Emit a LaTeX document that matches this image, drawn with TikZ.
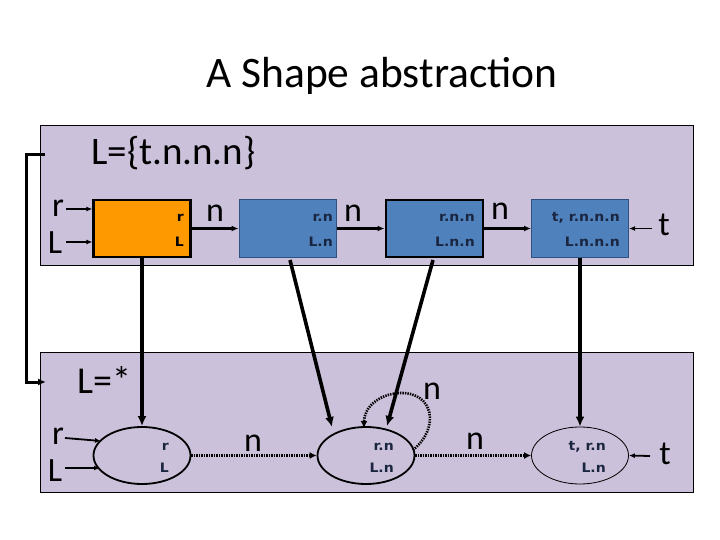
\documentclass[tikz,border=0pt]{standalone}
\usepackage{fontspec}
\setmainfont{Carlito}
\newfontfamily\labfont[FakeStretch=1.08]{DejaVu Sans Bold}
\usetikzlibrary{arrows.meta,shapes.geometric}
\definecolor{panel}{HTML}{CCC1DA}
\definecolor{orangebox}{HTML}{FF9900}
\definecolor{bluebox}{HTML}{4F81BD}
\definecolor{blueedge}{HTML}{2F4F7F}
\definecolor{labtext}{HTML}{1A2540}
\tikzset{
  panelbox/.style={draw=black, line width=0.8pt, fill=panel},
  boxbase/.style={rectangle, minimum width=97pt, minimum height=57pt, inner sep=0pt},
  orangenode/.style={boxbase, fill=orangebox, draw=black, line width=2.2pt},
  bluethin/.style={boxbase, fill=bluebox, draw=blueedge, line width=1pt},
  bluethick/.style={boxbase, fill=bluebox, draw=black, line width=2pt},
  ellbase/.style={ellipse, minimum width=97pt, minimum height=57pt, inner sep=0pt},
  ellthick/.style={ellbase, draw=black, line width=1.8pt},
  ellthin/.style={ellbase, draw=black, line width=0.8pt},
  small/.style={font=\labfont\fontsize{13}{15}\selectfont, text=labtext, inner sep=0pt, anchor=base east},
  big/.style={font=\fontsize{34}{40}\selectfont, inner sep=0pt, anchor=base},
  bigarrow/.style={line width=3.6pt, -{Latex[length=10pt,width=9pt]}},
  narrow/.style={line width=2.8pt, -{Latex[length=7pt,width=6pt]}},
  inarrow/.style={line width=1.8pt, -{Latex[length=6pt,width=5pt]}},
  dotarrow/.style={line width=2.6pt, dash pattern=on 1.4pt off 1.1pt, -{Latex[length=7pt,width=7pt]}},
  bracket/.style={line width=3pt, -{Latex[length=8pt,width=7pt]}},
}
\begin{document}
\begin{tikzpicture}[x=1pt,y=-1pt]
\useasboundingbox (0,0) rectangle (720,540);
% panels
\draw[panelbox] (40,125) rectangle (693,265);
\draw[panelbox] (40,352) rectangle (693,492);
% title
\node[font=\fontsize{43.5}{50}\selectfont, inner sep=0pt, anchor=base] (title) at (382,88) {A Shape abstraction};
\node[font=\fontsize{39}{44}\selectfont, inner sep=0pt, anchor=base west] (lset) at (91,165) {L=\{t.n.n.n\}};
\node[font=\fontsize{38}{44}\selectfont, inner sep=0pt, anchor=base west] (lstar) at (77,393) {L=*};
% top boxes
\node[orangenode] (o) at (142,228.5) {};
\node[bluethin] (b1) at (287.5,228.5) {};
\node[bluethick] (b2) at (434,228.5) {};
\node[bluethin] (b3) at (580,228.5) {};
\node[small, text=black] (ol1) at (184,222) {r};
\node[small, text=black] (ol2) at (184,246) {L};
\node[small] (b1l1) at (333,222) {r.n};
\node[small] (b1l2) at (333,246) {L.n};
\node[small] (b2l1) at (475,222) {r.n.n};
\node[small] (b2l2) at (475,246) {L.n.n};
\node[small] (b3l1) at (620,222) {t, r.n.n.n};
\node[small] (b3l2) at (620,246) {L.n.n.n};
% bottom ellipses
\node[ellthick] (e1) at (142,455.5) {};
\node[ellthick] (e2) at (366,455.5) {};
\node[ellthin] (e3) at (580,455.5) {};
\node[small] (e1l1) at (169,450) {r};
\node[small] (e1l2) at (169,472) {L};
\node[small] (e2l1) at (394,450) {r.n};
\node[small] (e2l2) at (394,472) {L.n};
\node[small] (e3l1) at (606,450) {t, r.n};
\node[small] (e3l2) at (606,472) {L.n};
% top labels and inputs
\node[big] (tr) at (58,216) {r};
\node[big] (tL) at (55,253) {L};
\coordinate (trs) at (66,209);
\coordinate (tLs) at (66,242);
\draw[inarrow] (trs) -- (trs -| o.west);
\draw[inarrow] (tLs) -- (tLs -| o.west);
\node[big] (n1) at (215,222) {n};
\node[big] (n2) at (353,222) {n};
\node[big] (n3) at (500,220) {n};
\node[big] (tt) at (664,236) {t};
\draw[narrow] (o.east) -- (b1.west);
\draw[narrow] (b1.east) -- (b2.west);
\draw[narrow] (b2.east) -- (b3.west);
\coordinate (tts) at (652,228.5);
\draw[inarrow] (tts) -- (b3.east);
% bottom labels and inputs
\node[big] (br) at (58,444) {r};
\node[big] (bL) at (55,481) {L};
\coordinate (brs) at (65,438);
\coordinate (brt) at (101,441);
\coordinate (bLs) at (65,468);
\coordinate (bLt) at (100,468);
\draw[inarrow] (brs) -- (brt);
\draw[inarrow] (bLs) -- (bLt);
\node[big] (m1) at (253,451) {n};
\node[big] (m2) at (475,449) {n};
\node[big] (m3) at (432,399) {n};
\node[big] (bt) at (665,464) {t};
\draw[dotarrow] (e1.east) -- (e2.west);
\draw[dotarrow] (e2.east) -- (e3.west);
\coordinate (bts) at (650,456);
\draw[inarrow] (bts) -- (e3.east);
% self loop
\coordinate (lpa) at (413,450);
\coordinate (lpb) at (364,428);
\draw[dotarrow] (lpa) .. controls (440,428) and (434,392) .. (400,393) .. controls (378,394) and (364,408) .. (lpb);
% vertical abstraction arrows
\coordinate (v2s) at (290,260);
\coordinate (v2t) at (332,427);
\coordinate (v3s) at (433,260);
\coordinate (v3t) at (387,426);
\draw[bigarrow] (o.south) -- (e1.north);
\draw[bigarrow] (v2s) -- (v2t);
\draw[bigarrow] (v3s) -- (v3t);
\draw[bigarrow] (b3.south) -- (e3.north);
% bracket
\coordinate (bka) at (45,155);
\coordinate (bkb) at (46,382);
\draw[bracket] (bka) -- (26,155) |- (bkb);
\end{tikzpicture}
\end{document}
